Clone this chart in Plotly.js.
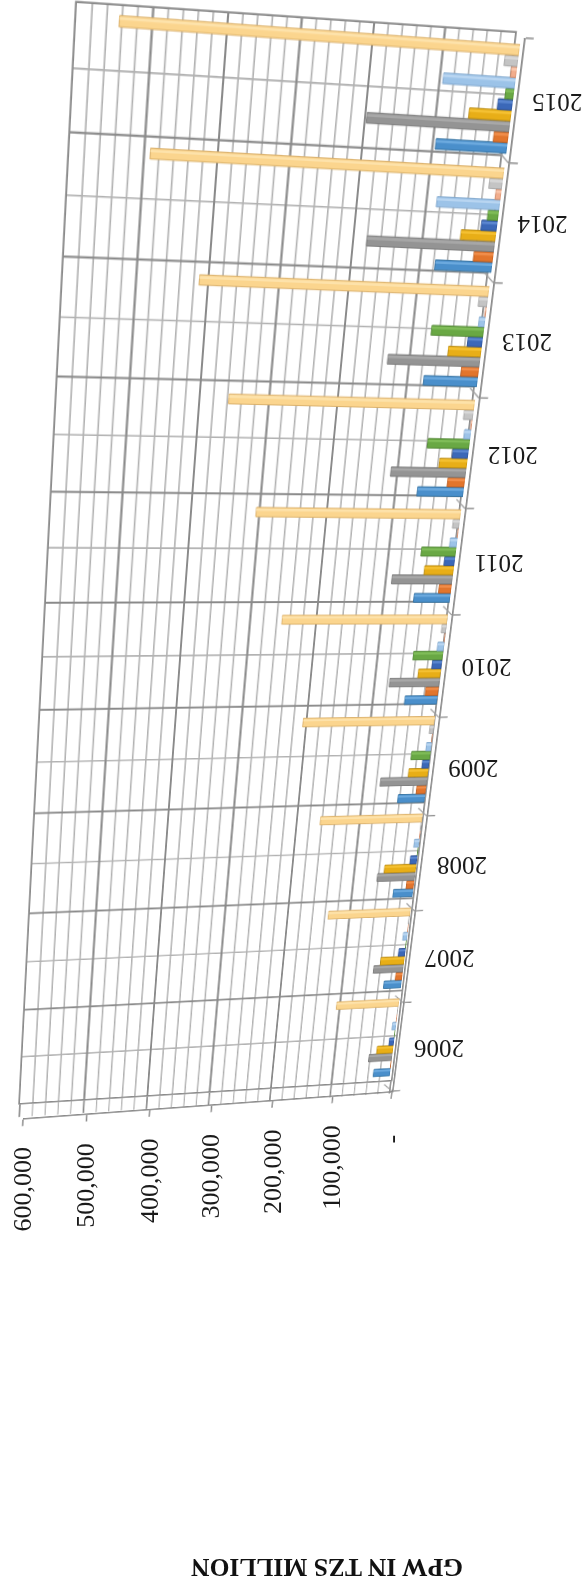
<!DOCTYPE html>
<html>
<head>
<meta charset="utf-8">
<script src="https://cdn.plot.ly/plotly-3.0.1.min.js"></script>
<style>
html,body{margin:0;padding:0;background:#fff;overflow:hidden}
#wrap{position:relative;width:583px;height:1586px;overflow:hidden}
#wrap>div{position:absolute;left:0;top:0;width:583px;height:1586px;transform-origin:0 0}
#wrap .crisp{shape-rendering:geometricPrecision !important}
</style>
</head>
<body>
<div id="wrap"><div id="wall"></div><div id="front"></div><div id="bars"></div><div id="labels"></div></div>
<script>
// Gross premiums written per year, TZS million
const years = [2006,2007,2008,2009,2010,2011,2012,2013,2014,2015];
const fire        = [28000,29000,32000,43000,51000,56000,70000,80000,83000,102000];
const engineering = [500,11000,12000,15000,20000,19000,26000,26000,28500,21000];
const motor       = [39000,49000,61000,74000,78000,93000,113000,136000,184000,202000];
const accident    = [27000,39000,51000,31000,35000,45000,42000,49000,51000,60000];
const marine      = [8000,11000,11000,11000,15000,16000,24000,22000,23000,21000];
const aviation    = [300,500,500,30000,46000,53000,63000,77000,15500,12000];
const health      = [6000,7000,8000,8000,10000,11000,10000,9000,91000,102000];
const liability   = [500,500,500,500,1000,1000,1500,1500,8000,8000];
const other       = [500,1000,1000,6000,7000,10000,14000,13000,19000,19000];
const total       = [103000,133000,162000,205000,252000,305000,358000,412000,490000,541000];

const seriesValues = [fire,engineering,motor,accident,marine,aviation,health,liability,other,total];
const seriesColors = ['#4a8fcb','#e2752c','#949494','#e8ae17','#3b68b8','#69a844','#9cc3e8','#f2ad8c','#c4c4c4','#fbd58e'];
const seriesLights = ['#6ba9de','#f08d4a','#a8a8a8','#f4c032','#5a86d0','#7fbc58','#b8d5f1','#f8c6ac','#d8d8d8','#fde2aa'];
const seriesEdges  = ['#33719f','#b85a1e','#777777','#b98a10','#2c4f90','#4f8432','#7fa6cc','#d08c6c','#a4a4a4','#d9ae66'];
const valueTicks = [0,100000,200000,300000,400000,500000,600000];
const valueLabels = ['-','100,000','200,000','300,000','400,000','500,000','600,000'];
const chartTitle = 'GPW IN TZS MILLION';

const W = 583, H = 1586;
const L = 60, R = 100, T = 8, B = 480;
const plotW = W - L - R, plotH = H - T - B;
const axisMax = 600000;
const floorDepth = 15;

// The 3-D box has three planes, each with its own corners on the page
const wallQuad  = {tl:[77,3],  tr:[515,33], bl:[20,1103],  br:[391,1080]};
const barsQuad  = {tl:[74,4],  tr:[521,37], bl:[17,1104],  br:[389,1081]};
const frontQuad = {tl:[80,10], tr:[524,38], bl:[23,1118],  br:[392,1091]};

// Projective map from the plot rectangle on to a quadrilateral
function projectiveMap(q){
  const [x0,y0]=q.tl,[x1,y1]=q.tr,[x2,y2]=q.br,[x3,y3]=q.bl;
  const dx1=x1-x2,dx2=x3-x2,sx=x0-x1+x2-x3;
  const dy1=y1-y2,dy2=y3-y2,sy=y0-y1+y2-y3;
  const den=dx1*dy2-dx2*dy1;
  const g=(sx*dy2-dx2*sy)/den, h=(dx1*sy-sx*dy1)/den;
  const a=x1-x0+g*x1, b=x3-x0+h*x3, c=x0;
  const d=y1-y0+g*y1, e=y3-y0+h*y3, f=y0;
  const ux=1/plotW, uy=1/plotH;
  return {
    a:a*ux, b:b*uy, c:c-a*L*ux-b*T*uy,
    d:d*ux, e:e*uy, f:f-d*L*ux-e*T*uy,
    g:g*ux, h:h*uy, i:1-g*L*ux-h*T*uy
  };
}
function applyPlane(id,q){
  const m=projectiveMap(q);
  document.getElementById(id).style.transform =
    'matrix3d('+[m.a,m.d,0,m.g, m.b,m.e,0,m.h, 0,0,1,0, m.c,m.f,0,m.i].join(',')+')';
  return m;
}
function project(m,px,py){
  const w=m.g*px+m.h*py+m.i;
  return [(m.a*px+m.b*py+m.c)/w,(m.d*px+m.e*py+m.f)/w];
}
applyPlane('wall',wallQuad);
applyPlane('bars',barsQuad);
const frontMap = applyPlane('front',frontQuad);

const xPix = v => L + plotW*(1 - v/axisMax);
const yPix = y => T + plotH*(2015.5 - y)/10;

const gridMajor = '#8a8a8a', gridMinor = '#b2b2b2';
const baseLayout = {width:W,height:H,margin:{l:L,r:R,t:T,b:B},showlegend:false,
  paper_bgcolor:'rgba(0,0,0,0)',plot_bgcolor:'rgba(0,0,0,0)'};
const cfg = {staticPlot:true,displayModeBar:false};
const blankX = {range:[axisMax,0],showticklabels:false,showgrid:false,zeroline:false,ticks:'',showline:false};
const blankY = {range:[2005.5,2015.5],showticklabels:false,showgrid:false,zeroline:false,ticks:'',showline:false};

// Back wall: gridlines, with ticks carried down across the floor strip
Plotly.newPlot('wall',[],Object.assign({},baseLayout,{
  plot_bgcolor:'#fff',
  xaxis:{range:[axisMax,0],tickmode:'array',tickvals:valueTicks,showticklabels:false,
    showgrid:true,gridcolor:gridMajor,gridwidth:2,zeroline:false,
    showline:true,linecolor:gridMajor,linewidth:1.8,mirror:true,
    ticks:'outside',ticklen:floorDepth,tickcolor:gridMajor,tickwidth:1.6,
    minor:{dtick:20000,showgrid:true,gridcolor:gridMinor,gridwidth:1.6,
      ticks:'outside',ticklen:floorDepth,tickcolor:gridMinor,tickwidth:1.3}},
  yaxis:{range:[2005.5,2015.5],tick0:2005.5,dtick:1,showticklabels:false,
    showgrid:true,gridcolor:gridMajor,gridwidth:2,zeroline:false,
    showline:true,linecolor:gridMajor,linewidth:1.8,mirror:true,ticks:'',
    minor:{tick0:2005.5,dtick:0.5,showgrid:true,gridcolor:gridMinor,gridwidth:1.6}}
}),cfg);

// Front edge of the box: axis lines, tick marks and the short depth connectors
const connectors = years.concat([2016]).map(y=>({type:'line',xref:'x',yref:'y',
  x0:0,y0:y-0.5,x1:15000,y1:y-0.5+0.085,line:{color:'#a0a0a0',width:1.3}}));
Plotly.newPlot('front',[],Object.assign({},baseLayout,{
  xaxis:{range:[axisMax,0],tickmode:'array',tickvals:valueTicks,showticklabels:false,
    showgrid:false,zeroline:false,showline:true,linecolor:gridMajor,linewidth:1.8,
    ticks:'outside',ticklen:8,tickcolor:gridMajor,tickwidth:1.6},
  yaxis:{range:[2005.5,2015.5],tick0:2005.5,dtick:1,showticklabels:false,side:'right',
    showgrid:false,zeroline:false,showline:true,linecolor:gridMajor,linewidth:1.8,
    ticks:'outside',ticklen:8,tickcolor:gridMajor,tickwidth:1.4},
  shapes:connectors
}),cfg);

// Bars: each series gets a body bar and a thinner, lighter bar for the sheen
const pitch = 0.088, thick = 0.085;
const traces = [];
seriesValues.forEach((vals,i)=>{
  const off = -0.4385 + i*pitch;
  traces.push({type:'bar',orientation:'h',x:vals,y:years,width:thick,offset:off,
    marker:{color:seriesColors[i],line:{color:seriesEdges[i],width:0.9}},hoverinfo:'skip'});
  traces.push({type:'bar',orientation:'h',x:vals,y:years,width:thick*0.26,offset:off+thick*0.62,
    marker:{color:seriesLights[i],line:{width:0}},hoverinfo:'skip'});
});
Plotly.newPlot('bars',traces,Object.assign({},baseLayout,{
  barmode:'overlay',xaxis:blankX,yaxis:blankY
}),cfg);

// Text stays unskewed: flat layer, placed through the front-plane projection
const serif = 'Liberation Serif, Times New Roman, serif';
const annotations = [];
years.forEach(y=>{
  const p = project(frontMap,xPix(0),yPix(y));
  annotations.push({x:p[0]+41,y:p[1]+1.5,xref:'x',yref:'y',text:String(y),showarrow:false,
    textangle:180,xanchor:'center',yanchor:'middle',font:{family:serif,size:25,color:'#1a1a1a'}});
});
valueTicks.forEach((v,i)=>{
  const p = project(frontMap,xPix(v),T+plotH);
  annotations.push({x:p[0]-1,y:p[1]+(v===0?42:27),xref:'x',yref:'y',text:valueLabels[i],showarrow:false,
    textangle:-90,xanchor:'center',yanchor:'top',font:{family:serif,size:26,color:'#1a1a1a'}});
});
annotations.push({x:327,y:1568,xref:'x',yref:'y',text:'<b>'+chartTitle+'</b>',showarrow:false,
  textangle:180,xanchor:'center',yanchor:'middle',font:{family:serif,size:25.5,color:'#111'}});

Plotly.newPlot('labels',[],{
  width:W,height:H,margin:{l:0,r:0,t:0,b:0},
  paper_bgcolor:'rgba(0,0,0,0)',plot_bgcolor:'rgba(0,0,0,0)',showlegend:false,
  xaxis:{range:[0,W],visible:false},yaxis:{range:[H,0],visible:false},
  annotations:annotations
},cfg);
</script>
</body>
</html>
